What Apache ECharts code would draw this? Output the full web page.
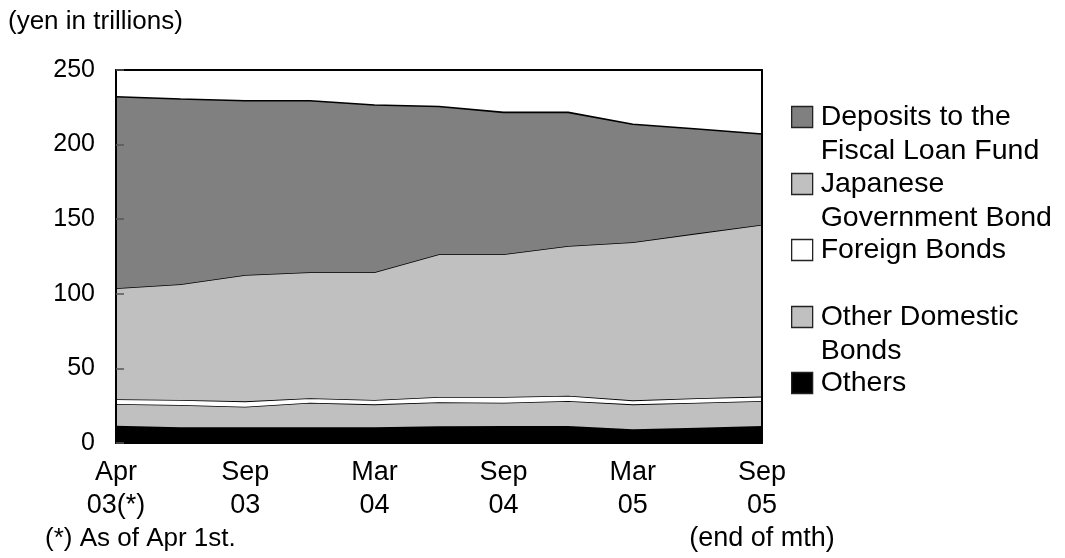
<!DOCTYPE html>
<html>
<head>
<meta charset="utf-8">
<script src="https://cdn.jsdelivr.net/npm/echarts@6/dist/echarts.min.js"></script>
<style>
html,body{margin:0;padding:0;background:#fff;}
#chart{width:1065px;height:558px;}
</style>
</head>
<body>
<div id="chart"></div>
<script>
// ---- data (yen in trillions) ----
const categories = ['Apr\n03(*)', 'Jun\n03', 'Sep\n03', 'Dec\n03', 'Mar\n04', 'Jun\n04', 'Sep\n04', 'Dec\n04', 'Mar\n05', 'Jun\n05', 'Sep\n05\n(end of mth)'];
const others        = [11.5, 10.5, 10.5, 10.5, 10.5, 11.2, 11.4, 11.4, 9.2, 10.3, 11.4];
const otherDomestic = [14.6, 15.0, 13.8, 16.5, 15.4, 16.1, 15.6, 16.8, 16.7, 16.7, 16.8];
const foreignBonds  = [3.2, 3.3, 3.6, 3.0, 2.9, 3.5, 3.8, 3.5, 2.7, 3.0, 2.9];
const jgb           = [74.4, 77.6, 84.7, 84.4, 85.6, 95.7, 95.7, 100.3, 105.9, 110.5, 115.2];
const deposits      = [128.4, 124.2, 116.8, 115.0, 112.1, 99.0, 95.1, 89.6, 79.1, 70.0, 60.8];
const yTicks = [0, 50, 100, 150, 200, 250];

const seriesNames = ['Others', 'Other Domestic\nBonds', 'Foreign Bonds', 'Japanese\nGovernment Bond', 'Deposits to the\nFiscal Loan Fund'];
const seriesData = [others, otherDomestic, foreignBonds, jgb, deposits];
const fills = ['#000000', '#c0c0c0', '#ffffff', '#c0c0c0', '#808080'];

const FONT = '"Liberation Sans", Arial, sans-serif';
const chart = echarts.init(document.getElementById('chart'), null, {renderer: 'canvas'});

const series = seriesNames.map((n, i) => ({
  name: n,
  type: 'line',
  stack: 'total',
  data: seriesData[i],
  showSymbol: false,
  symbol: 'none',
  smooth: false,
  z: 2 + i * 0.01,
  lineStyle: {color: '#000', width: 1.6},
  itemStyle: {color: fills[i]},
  areaStyle: {color: fills[i], opacity: 1},
  emphasis: {disabled: true},
  silent: true
}));

// legend: top-to-bottom order, icon centers
const legendOrder = [4, 3, 2, 1, 0];
const legendCenters = [117, 184, 250, 317, 383];
const LH = 34;
const LFS = 28.5;
const legends = legendOrder.map((si, k) => {
  const lines = seriesNames[si].split('\n').length;
  return {
    orient: 'vertical',
    left: 791,
    top: legendCenters[k] - LH / 2 - (lines - 1) * LH,
    padding: 0,
    icon: 'rect',
    itemWidth: 21,
    itemHeight: 21,
    data: [seriesNames[si]],
    selectedMode: false,
    itemStyle: {color: fills[si], borderColor: '#222', borderWidth: 1.3},
    textStyle: {
      fontFamily: FONT, fontSize: LFS, color: '#000', lineHeight: LH,
      padding: [(lines - 1) * LH, 0, 0, 3],
      rich: {t: {fontFamily: FONT, fontSize: LFS, lineHeight: LH}}
    }
  };
});

const option = {
  animation: false,
  backgroundColor: '#fff',
  textStyle: {fontFamily: FONT},
  title: [
    {text: '(yen in trillions)', left: 8, top: 7, padding: 0,
     textStyle: {fontFamily: FONT, fontSize: 26, fontWeight: 'normal', color: '#000', lineHeight: 30}},
    {text: '(*) As of Apr 1st.', left: 45, top: 524, padding: 0,
     textStyle: {fontFamily: FONT, fontSize: 26, fontWeight: 'normal', color: '#000', lineHeight: 30}}
  ],
  legend: legends,
  grid: {left: 116, top: 70, width: 646, height: 373, containLabel: false},
  xAxis: [{
    type: 'category',
    data: categories,
    boundaryGap: false,
    z: 10,
    axisLine: {show: true, onZero: false, lineStyle: {color: '#000', width: 2}},
    axisTick: {show: false},
    splitLine: {show: false},
    axisLabel: {interval: 1, margin: 13, fontFamily: FONT, fontSize: 27, lineHeight: 33, color: '#000'}
  }, {
    type: 'category',
    data: categories,
    boundaryGap: false,
    position: 'top',
    z: 10,
    axisLine: {show: true, onZero: false, lineStyle: {color: '#000', width: 2}},
    axisTick: {show: false},
    axisLabel: {show: false},
    splitLine: {show: false}
  }],
  yAxis: [{
    type: 'value',
    min: yTicks[0],
    max: yTicks[yTicks.length - 1],
    interval: 50,
    z: 10,
    axisLine: {show: true, onZero: false, lineStyle: {color: '#000', width: 2}},
    axisTick: {show: true, inside: true, length: 8, lineStyle: {color: '#555', width: 1.5}},
    splitLine: {show: false},
    axisLabel: {margin: 21, fontFamily: FONT, fontSize: 25, color: '#000'}
  }, {
    type: 'value',
    min: yTicks[0],
    max: yTicks[yTicks.length - 1],
    interval: 50,
    position: 'right',
    z: 10,
    axisLine: {show: true, onZero: false, lineStyle: {color: '#000', width: 2}},
    axisTick: {show: false},
    splitLine: {show: false},
    axisLabel: {show: false}
  }],
  series: series
};
chart.setOption(option);
</script>
</body>
</html>
